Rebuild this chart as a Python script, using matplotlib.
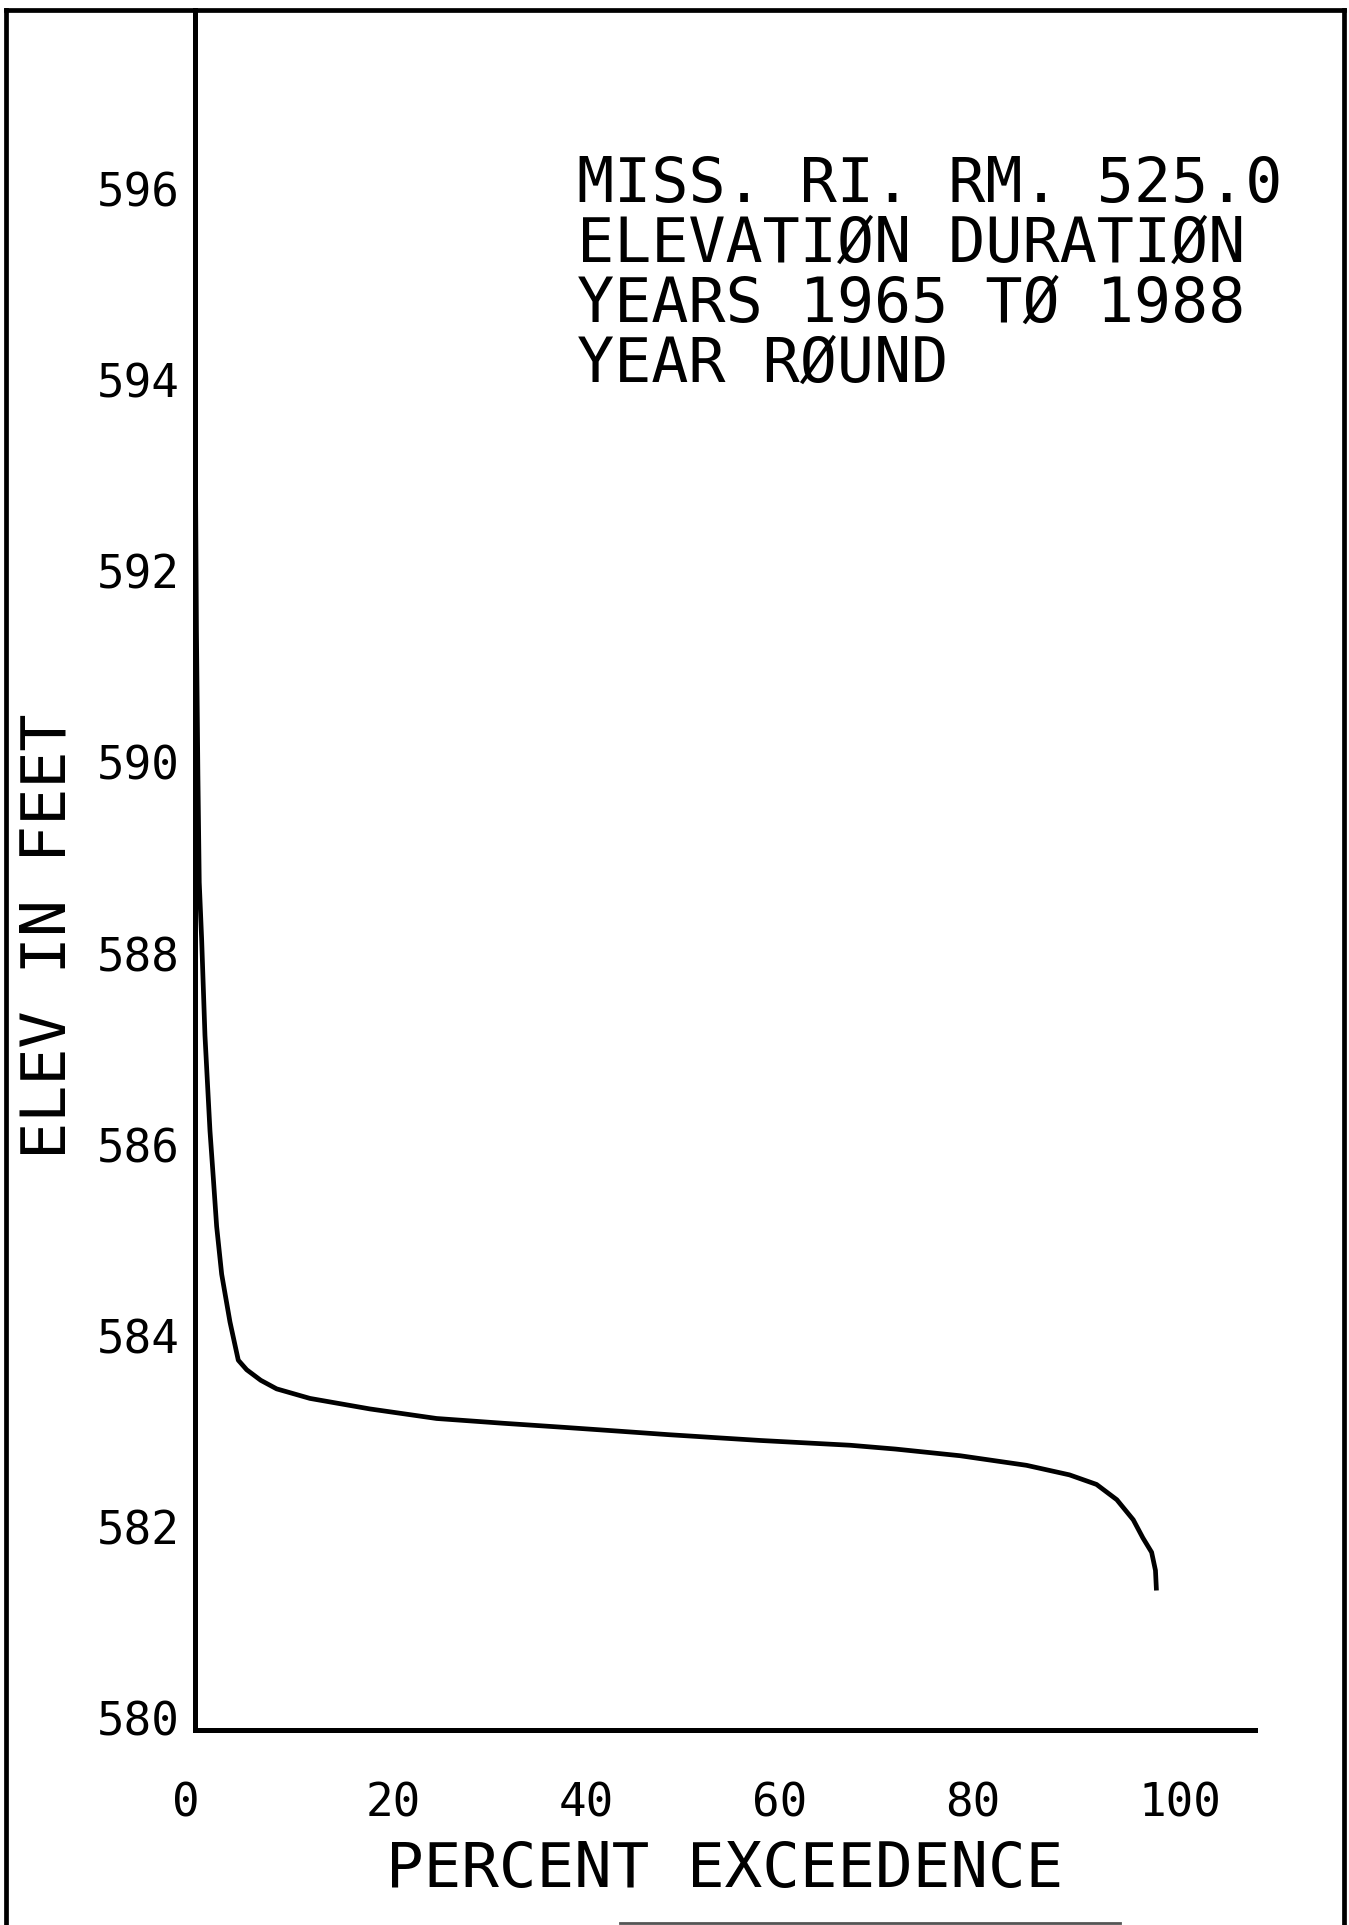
import matplotlib
matplotlib.use("Agg")
import matplotlib.pyplot as plt
from matplotlib.lines import Line2D
from matplotlib.transforms import ScaledTranslation

# Elevation-duration curve, Mississippi River mile 525.0, 1965-1988
percent_exceedence = [0.0, 0.15, 0.3, 0.44, 0.69, 1.03, 1.55, 1.9, 2.24, 2.76,
                      3.62, 4.48, 5.35, 6.8, 8.45, 11.9, 18.1, 25.0, 31.9,
                      37.8, 43.5, 49.1, 58.5, 67.8, 72.5, 79.2, 86.05, 90.5,
                      93.3, 95.4, 97.1, 98.1, 99.0, 99.4, 99.5]
elevation_ft = [594.0, 591.5, 590.0, 588.87, 588.27, 587.27, 586.27, 585.77,
                585.27, 584.77, 584.27, 583.87, 583.77, 583.66, 583.57,
                583.47, 583.36, 583.26, 583.21, 583.17, 583.13, 583.09,
                583.03, 582.98, 582.94, 582.87, 582.77, 582.67, 582.57,
                582.41, 582.20, 582.01, 581.86, 581.67, 581.46]

x_ticks = [0, 20, 40, 60, 80, 100]
y_ticks = [580, 582, 584, 586, 588, 590, 592, 594, 596]
title_lines = ["MISS. RI. RM. 525.0",
               "ELEVATIØN DURATIØN",
               "YEARS 1965 TØ 1988",
               "YEAR RØUND"]

W, H, DPI = 1349, 1925, 100
FONT = "DejaVu Sans Mono"

fig = plt.figure(figsize=(W / DPI, H / DPI), dpi=DPI)
fig.patch.set_facecolor("white")

ax = fig.add_axes([195 / W, (H - 1730) / H, (1255 - 195) / W, (1730 - 10) / H])
ax.plot(percent_exceedence, elevation_ft, color="black", lw=3.4,
        solid_joinstyle="round", solid_capstyle="butt")

ax.set_xlim(0, 109.7)
ax.set_ylim(580, 598)
for side in ("top", "right"):
    ax.spines[side].set_visible(False)
for side in ("left", "bottom"):
    ax.spines[side].set_linewidth(3.6)
    ax.spines[side].set_color("black")

ax.set_xticks(x_ticks)
ax.set_xticklabels([str(v) for v in x_ticks], family=FONT, fontsize=33)
ax.set_yticks(y_ticks)
ax.set_yticklabels([str(v) for v in y_ticks], family=FONT, fontsize=33)
ax.tick_params(axis="x", length=0, pad=37)
ax.tick_params(axis="y", length=0, pad=11)

for lab in ax.get_xticklabels():
    lab.set_horizontalalignment("left")
    lab.set_transform(lab.get_transform() +
                      ScaledTranslation(-23 / DPI, 0, fig.dpi_scale_trans))
for lab in ax.get_yticklabels():
    lab.set_transform(lab.get_transform() +
                      ScaledTranslation(0, 12 / DPI, fig.dpi_scale_trans))

# Title block inside the plot area
baselines = [202, 262, 322, 382]
for line, yb in zip(title_lines, baselines):
    fig.text(577 / W, 1 - yb / H, line, family=FONT, fontsize=44.5,
             ha="left", va="baseline")

# Axis titles
fig.text(725 / W, 1 - 1870 / H, "PERCENT EXCEEDENCE", family=FONT,
         fontsize=45, ha="center", va="center")
fig.text(49 / W, 1 - 936 / H, "ELEV IN FEET", family=FONT, fontsize=44.5,
         rotation=90, ha="center", va="center")

# Page border
def fig_line(xs, ys, lw=3.4, color="black"):
    fig.add_artist(Line2D([x / W for x in xs], [1 - y / H for y in ys],
                          transform=fig.transFigure, color=color, lw=lw))

fig_line([6, 1344], [10, 10])
fig_line([6, 6], [10, 1925])
fig_line([1344, 1344], [10, 1925])
fig_line([620, 1120], [1923, 1923], lw=2.0, color="#555555")

fig.savefig("out.png", dpi=DPI, facecolor="white")
